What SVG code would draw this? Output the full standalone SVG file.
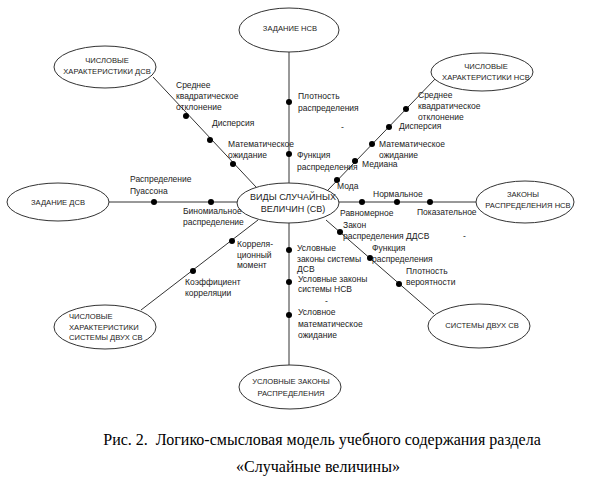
<svg xmlns="http://www.w3.org/2000/svg" width="613" height="491" viewBox="0 0 613 491">
<style>
.n{fill:#fff;stroke:#333;stroke-width:1}
.e{stroke:#333;stroke-width:1;fill:none}
.d{fill:#000}
.t{font-family:"Liberation Sans",Arial,sans-serif;font-size:7.6px;fill:#222;text-anchor:middle}
.tc{font-family:"Liberation Sans",Arial,sans-serif;font-size:9px;fill:#222;text-anchor:middle}
.l{font-family:"Liberation Sans",Arial,sans-serif;font-size:8.5px;fill:#222}
.c{font-family:"Liberation Serif","Times New Roman",serif;font-size:16px;fill:#000;text-anchor:middle;white-space:pre}
</style>
<rect width="613" height="491" fill="#fff"/>
<g id="connectors">
<line class="e" x1="289" y1="52" x2="289" y2="183"/>
<line class="e" x1="289" y1="223" x2="289" y2="365"/>
<line class="e" x1="109" y1="202" x2="237" y2="202"/>
<line class="e" x1="339" y1="202" x2="476" y2="202"/>
<line class="e" x1="153" y1="77" x2="256" y2="187"/>
<line class="e" x1="436" y1="78" x2="328" y2="190"/>
<line class="e" x1="141" y1="310" x2="258" y2="220"/>
<line class="e" x1="326" y1="220" x2="434" y2="314"/>
<circle class="d" cx="289" cy="102" r="3"/>
<circle class="d" cx="289" cy="154" r="3"/>
<circle class="d" cx="289" cy="250" r="3"/>
<circle class="d" cx="289" cy="282" r="3"/>
<circle class="d" cx="289" cy="315" r="3"/>
<circle class="d" cx="154" cy="202" r="3"/>
<circle class="d" cx="211" cy="202" r="3"/>
<circle class="d" cx="362" cy="202" r="3"/>
<circle class="d" cx="397" cy="202" r="3"/>
<circle class="d" cx="430" cy="202" r="3"/>
<circle class="d" cx="186" cy="116" r="3"/>
<circle class="d" cx="210" cy="140" r="3"/>
<circle class="d" cx="233" cy="164" r="3"/>
<circle class="d" cx="406" cy="109" r="3"/>
<circle class="d" cx="389" cy="127" r="3"/>
<circle class="d" cx="372" cy="144" r="3"/>
<circle class="d" cx="355" cy="161" r="3"/>
<circle class="d" cx="337" cy="180" r="3"/>
<circle class="d" cx="232" cy="241" r="3"/>
<circle class="d" cx="193" cy="271" r="3"/>
<circle class="d" cx="340" cy="232" r="3"/>
<circle class="d" cx="370" cy="258" r="3"/>
<circle class="d" cx="399" cy="284" r="3"/>
</g>
<g id="center">
<ellipse class="n" cx="288" cy="203" rx="51" ry="20"/>
<text class="tc" x="293" y="200">ВИДЫ СЛУЧАЙНЫХ</text>
<text class="tc" x="293" y="212">ВЕЛИЧИН (СВ)</text>
</g>
<g id="zadanie-nsv">
<ellipse class="n" cx="289" cy="30" rx="50" ry="22"/>
<text class="t" x="290" y="31">ЗАДАНИЕ НСВ</text>
</g>
<g id="chisl-dsv">
<ellipse class="n" cx="105" cy="67" rx="51" ry="21"/>
<text class="t" x="107" y="63">ЧИСЛОВЫЕ</text>
<text class="t" x="107" y="74">ХАРАКТЕРИСТИКИ ДСВ</text>
</g>
<g id="chisl-nsv">
<ellipse class="n" cx="482" cy="72" rx="51" ry="19"/>
<text class="t" x="486" y="69">ЧИСЛОВЫЕ</text>
<text class="t" x="486" y="80">ХАРАКТЕРИСТИКИ НСВ</text>
</g>
<g id="zadanie-dsv">
<ellipse class="n" cx="58" cy="202" rx="51" ry="19"/>
<text class="t" x="58" y="205">ЗАДАНИЕ ДСВ</text>
</g>
<g id="zakony-nsv">
<ellipse class="n" cx="525" cy="202" rx="49" ry="21"/>
<text class="t" x="523" y="197">ЗАКОНЫ</text>
<text class="t" x="528" y="208">РАСПРЕДЕЛЕНИЯ НСВ</text>
</g>
<g id="chisl-sys">
<ellipse class="n" cx="105" cy="327" rx="51" ry="22"/>
<text class="t" x="69" y="319" style="text-anchor:start">ЧИСЛОВЫЕ</text>
<text class="t" x="69" y="330" style="text-anchor:start">ХАРАКТЕРИСТИКИ</text>
<text class="t" x="69" y="340" style="text-anchor:start">СИСТЕМЫ ДВУХ СВ</text>
</g>
<g id="sistemy">
<ellipse class="n" cx="479" cy="326" rx="51" ry="22"/>
<text class="t" x="482" y="328">СИСТЕМЫ ДВУХ СВ</text>
</g>
<g id="uslovnye">
<ellipse class="n" cx="290" cy="387" rx="51" ry="22"/>
<text class="t" x="291" y="384">УСЛОВНЫЕ ЗАКОНЫ</text>
<text class="t" x="291" y="396">РАСПРЕДЕЛЕНИЯ</text>
</g>
<g id="labels">
<text class="l" x="298" y="99">Плотность</text>
<text class="l" x="298" y="111">распределения</text>
<text class="l" x="297" y="158">Функция</text>
<text class="l" x="297" y="170">распределения</text>
<text class="l" x="176" y="88">Среднее</text>
<text class="l" x="176" y="99">квадратическое</text>
<text class="l" x="176" y="110">отклонение</text>
<text class="l" x="212" y="126">Дисперсия</text>
<text class="l" x="228" y="147">Математическое</text>
<text class="l" x="228" y="158">ожидание</text>
<text class="l" x="418" y="98">Среднее</text>
<text class="l" x="418" y="109">квадратическое</text>
<text class="l" x="418" y="120">отклонение</text>
<text class="l" x="399" y="129">Дисперсия</text>
<text class="l" x="379" y="147">Математическое</text>
<text class="l" x="379" y="158">ожидание</text>
<text class="l" x="362" y="167">Медиана</text>
<text class="l" x="337" y="189">Мода</text>
<text class="l" x="130" y="182">Распределение</text>
<text class="l" x="130" y="194">Пуассона</text>
<text class="l" x="183" y="214">Биномиальное</text>
<text class="l" x="183" y="225">распределение</text>
<text class="l" x="373" y="197">Нормальное</text>
<text class="l" x="340" y="216">Равномерное</text>
<text class="l" x="417" y="215">Показательное</text>
<text class="l" x="343" y="228">Закон</text>
<text class="l" x="343" y="239">распределения ДДСВ</text>
<text class="l" x="372" y="251">Функция</text>
<text class="l" x="372" y="262">распределения</text>
<text class="l" x="406" y="274">Плотность</text>
<text class="l" x="406" y="285">вероятности</text>
<text class="l" x="237" y="247">Корреля-</text>
<text class="l" x="237" y="258">ционный</text>
<text class="l" x="237" y="268">момент</text>
<text class="l" x="185" y="285">Коэффициент</text>
<text class="l" x="185" y="296">корреляции</text>
<text class="l" x="297" y="251">Условные</text>
<text class="l" x="297" y="262">законы системы</text>
<text class="l" x="297" y="272">ДСВ</text>
<text class="l" x="298" y="282">Условные законы</text>
<text class="l" x="298" y="292">системы НСВ</text>
<text class="l" x="298" y="315">Условное</text>
<text class="l" x="298" y="327">математическое</text>
<text class="l" x="298" y="338">ожидание</text>
<text class="l" x="341" y="130">-</text>
<text class="l" x="463" y="239">-</text>
<text class="l" x="325" y="304">-</text>
</g>
<text class="c" x="322" y="445" xml:space="preserve">Рис. 2.  Логико-смысловая модель учебного содержания раздела</text>
<text class="c" x="318" y="472">«Случайные величины»</text>
</svg>
